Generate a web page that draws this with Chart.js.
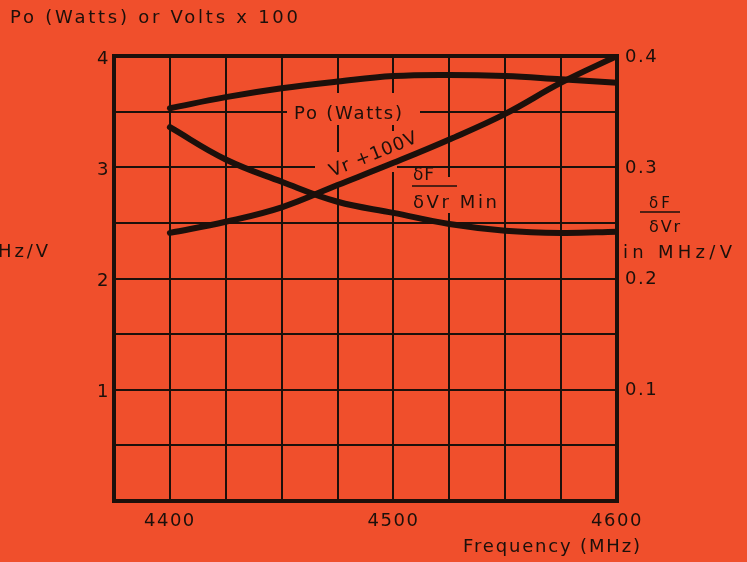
<!DOCTYPE html>
<html>
<head>
<meta charset="utf-8">
<script src="https://cdn.jsdelivr.net/npm/chart.js@4.4.1/dist/chart.umd.min.js"></script>
<style>
html,body{margin:0;padding:0;background:#F04F2C;overflow:hidden;}
canvas{display:block;}
</style>
</head>
<body>
<canvas id="c" width="747" height="562"></canvas>
<script>
// ---- data ----
const frequencies = [4400, 4425, 4450, 4475, 4500, 4525, 4550, 4575, 4600];   // MHz
const poWatts     = [3.53, 3.63, 3.71, 3.77, 3.82, 3.83, 3.82, 3.79, 3.76];   // Po (Watts)
const vrPlus100   = [2.41, 2.51, 2.64, 2.84, 3.04, 3.25, 3.48, 3.76, 4.00];   // Volts x 100
const dFdVrMin    = [0.336, 0.307, 0.287, 0.269, 0.259, 0.249, 0.243, 0.241, 0.242]; // MHz/V
const xTickLabels     = [4400, 4500, 4600];
const leftTickLabels  = [1, 2, 3, 4];
const rightTickLabels = ['0.1', '0.2', '0.3', '0.4'];

// ---- style ----
const BG = '#F04F2C';
const INK = '#1c100b';
const FONT = "'DejaVu Sans', 'Liberation Sans', sans-serif";

function spacedText(ctx, s, x, y, size, width, angle) {
  ctx.save();
  ctx.font = size + 'px ' + FONT;
  ctx.letterSpacing = '0px';
  const natural = ctx.measureText(s).width;
  const ls = s.length > 1 ? (width - natural) / (s.length - 1) : 0;
  ctx.letterSpacing = ls + 'px';
  ctx.fillStyle = INK;
  ctx.textAlign = 'left';
  ctx.textBaseline = 'alphabetic';
  ctx.translate(x, y);
  if (angle) ctx.rotate(angle * Math.PI / 180);
  ctx.fillText(s, 0, 0);
  ctx.restore();
}

const labelsPlugin = {
  id: 'labelsPlugin',
  beforeDraw(chart) {
    chart.ctx.letterSpacing = '1.5px';
  },
  beforeDatasetsDraw(chart) {
    const ctx = chart.ctx;
    ctx.save();
    // lettering clears the grid behind it
    ctx.fillStyle = BG;
    const clears = [
      [287, 93, 133, 32],   // Po (Watts)
      [315, 160, 82, 12],   // Vr+100V over 3.0 line
      [333, 152, 10, 34],   // Vr+100V over 4475 line
      [390, 131, 10, 34],   // Vr+100V over 4500 line
      [446, 177, 10, 36]    // dF/dVr Min over 4525 line
    ];
    clears.forEach(r => ctx.fillRect(r[0], r[1], r[2], r[3]));
    ctx.restore();

    spacedText(ctx, 'Po (Watts) or Volts x 100', 10, 23, 18, 288);
    spacedText(ctx, 'Hz/V', -2, 257, 18, 50);
    spacedText(ctx, 'Po (Watts)', 294, 119, 18, 108);
    spacedText(ctx, 'Vr +100V', 332, 177, 18, 93, -22);
    spacedText(ctx, 'δF', 413, 180, 17, 21);
    spacedText(ctx, 'δVr Min', 413, 208, 18, 84);
    spacedText(ctx, 'δF', 649, 208, 15, 21);
    spacedText(ctx, 'δVr', 649, 232, 16, 31);
    spacedText(ctx, 'in MHz/V', 623, 258, 18, 109);
    spacedText(ctx, 'Frequency (MHz)', 463, 552, 18, 177);

    ctx.save();
    ctx.strokeStyle = INK;
    ctx.lineWidth = 1.6;
    ctx.beginPath();
    ctx.moveTo(412, 186); ctx.lineTo(457, 186);
    ctx.moveTo(640, 212); ctx.lineTo(680, 212);
    ctx.stroke();
    ctx.restore();
  }
};

const toPoints = arr => frequencies.map((f, i) => ({ x: f, y: arr[i] }));
const curve = {
  borderColor: INK, borderWidth: 6, pointRadius: 0, tension: 0.4,
  fill: false, borderCapStyle: 'round', borderJoinStyle: 'round'
};

new Chart(document.getElementById('c'), {
  type: 'line',
  data: {
    datasets: [
      Object.assign({ label: 'Po (Watts)', data: toPoints(poWatts), yAxisID: 'y' }, curve),
      Object.assign({ label: 'Vr +100V', data: toPoints(vrPlus100), yAxisID: 'y' }, curve),
      Object.assign({ label: 'δF/δVr Min', data: toPoints(dFdVrMin), yAxisID: 'y1' }, curve)
    ]
  },
  options: {
    responsive: false,
    animation: false,
    devicePixelRatio: 1,
    layout: { padding: { top: 56, left: 0, right: 0, bottom: 0 } },
    plugins: { legend: { display: false }, tooltip: { enabled: false }, title: { display: false } },
    scales: {
      x: {
        type: 'linear', position: 'bottom', min: 4375, max: 4600,
        afterFit(s) { s.height = 61; },
        ticks: {
          stepSize: 25, autoSkip: false, maxRotation: 0, minRotation: 0, padding: 10,
          color: INK, font: { family: FONT, size: 18 },
          callback: v => xTickLabels.includes(v) ? String(v) : ''
        },
        grid: {
          color: INK, drawTicks: false,
          lineWidth: c => (c.tick && (c.tick.value === 4600 || c.tick.value === 4375)) ? 4 : 2
        },
        border: { display: true, color: INK, width: 4 }
      },
      y: {
        position: 'left', min: 0, max: 4,
        afterFit(s) { s.width = 114; },
        ticks: {
          stepSize: 0.5, autoSkip: false, padding: 4, labelOffset: 3,
          color: INK, font: { family: FONT, size: 18 },
          callback: v => leftTickLabels.includes(v) ? String(v) : ''
        },
        grid: {
          color: INK, drawTicks: false,
          lineWidth: c => (c.tick && c.tick.value === 4) ? 4 : 2
        },
        border: { display: true, color: INK, width: 4 }
      },
      y1: {
        position: 'right', min: 0, max: 0.4,
        afterFit(s) { s.width = 130; },
        ticks: {
          stepSize: 0.1, autoSkip: false, padding: 8, labelOffset: 1,
          color: INK, font: { family: FONT, size: 18 },
          callback: v => { const t = (Math.round(v * 10) / 10).toFixed(1); return rightTickLabels.includes(t) ? t : ''; }
        },
        grid: { display: false, drawTicks: false },
        border: { display: true, color: INK, width: 4 }
      }
    }
  },
  plugins: [labelsPlugin]
});
</script>
</body>
</html>
